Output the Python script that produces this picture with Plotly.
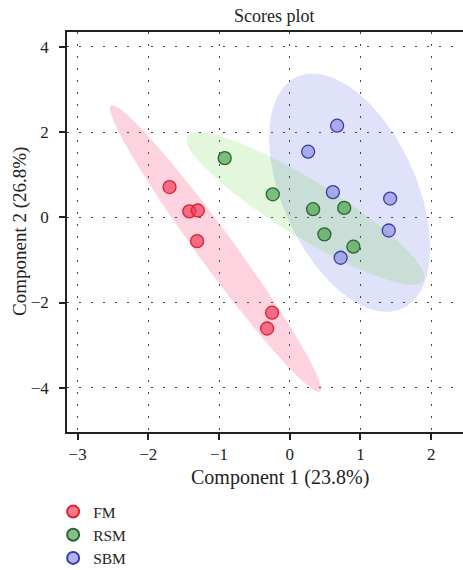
import numpy as np
import plotly.graph_objects as go

groups = ["FM", "RSM", "SBM"]
fm_x = [-1.70, -1.42, -1.30, -1.31, -0.25, -0.32]
fm_y = [0.71, 0.14, 0.16, -0.56, -2.24, -2.61]
rsm_x = [-0.92, -0.24, 0.33, 0.77, 0.49, 0.90]
rsm_y = [1.39, 0.54, 0.19, 0.22, -0.40, -0.69]
sbm_x = [0.67, 0.26, 0.61, 1.42, 1.40, 0.72]
sbm_y = [2.15, 1.54, 0.59, 0.44, -0.31, -0.95]

x_ticks = [-3, -2, -1, 0, 1, 2]
y_ticks = [-4, -2, 0, 2, 4]

marker_fill = ["rgba(239,62,96,0.7)", "rgba(80,165,80,0.7)", "rgba(142,148,228,0.7)"]
marker_line = ["#e0202a", "#2a6535", "#3a3aa8"]
ell_fill = ["rgba(240,35,95,0.2)", "rgba(76,204,31,0.156)", "rgba(42,62,208,0.15)"]

FONT = "Liberation Serif"

def conf_ellipse(x, y, level_t=np.sqrt(5.991), n=200):
    x = np.asarray(x); y = np.asarray(y)
    cov = np.cov(np.vstack([x, y]))
    vals, vecs = np.linalg.eigh(cov)
    t = np.linspace(0, 2 * np.pi, n)
    circ = np.vstack([np.cos(t), np.sin(t)])
    pts = vecs @ (np.sqrt(vals)[:, None] * circ) * level_t
    return pts[0] + x.mean(), pts[1] + y.mean()

data = [(fm_x, fm_y), (rsm_x, rsm_y), (sbm_x, sbm_y)]

fig = go.Figure()
# ellipses: blue, green, red order
for i in [2, 1, 0]:
    ex, ey = conf_ellipse(*data[i])
    fig.add_trace(go.Scatter(x=ex, y=ey, mode="lines", fill="toself",
                             fillcolor=ell_fill[i], line=dict(width=0),
                             hoverinfo="skip", showlegend=False))
for i, g in enumerate(groups):
    fig.add_trace(go.Scatter(x=data[i][0], y=data[i][1], mode="markers", name=g,
                             marker=dict(size=13, color=marker_fill[i],
                                         line=dict(color=marker_line[i], width=1.3))))

axis_common = dict(showline=True, linecolor="#222", linewidth=1.5,
                   ticks="outside", ticklen=6, tickwidth=2, tickcolor="#222",
                   showgrid=True, gridcolor="#444", gridwidth=1, griddash="2px,10px",
                   zeroline=False, tickfont=dict(family=FONT, size=17, color="#222"))

fig.update_xaxes(range=[-3.15, 2.45], tickvals=x_ticks,
                 ticktext=[str(v).replace("-", "\u2212") for v in x_ticks],
                 mirror=True, **axis_common)
fig.update_yaxes(range=[-5.04, 4.35], tickvals=y_ticks,
                 ticktext=[str(v).replace("-", "\u2212") for v in y_ticks],
                 ticklabelstandoff=7, **axis_common)

fig.add_annotation(text="Scores plot", xref="paper", yref="paper",
                   x=(274 - 67) / 396, y=1 + 16 / 400, showarrow=False,
                   font=dict(family=FONT, size=18, color="#222"), yanchor="middle")
fig.add_annotation(text="Component 1 (23.8%)", xref="paper", yref="paper",
                   x=(280 - 67) / 396, y=-(477 - 432) / 400, showarrow=False,
                   font=dict(family=FONT, size=20, color="#222"), yanchor="middle")
fig.add_annotation(text="Component 2 (26.8%)", xref="paper", yref="paper",
                   x=-(67 - 20) / 396, y=0.5, showarrow=False, textangle=-90,
                   font=dict(family=FONT, size=19, color="#222"), xanchor="center")

fig.update_layout(
    width=463, height=570,
    margin=dict(l=67, r=0, t=32, b=138),
    plot_bgcolor="white", paper_bgcolor="white",
    legend=dict(x=-0.035, xref="paper", y=1 - 495 / 570, yref="container",
                xanchor="left", yanchor="top",
                font=dict(family=FONT, size=15.5, color="#222"),
                tracegroupgap=0, itemsizing="constant", bgcolor="rgba(0,0,0,0)"),
    showlegend=True,
)

fig.write_html("out.html")
